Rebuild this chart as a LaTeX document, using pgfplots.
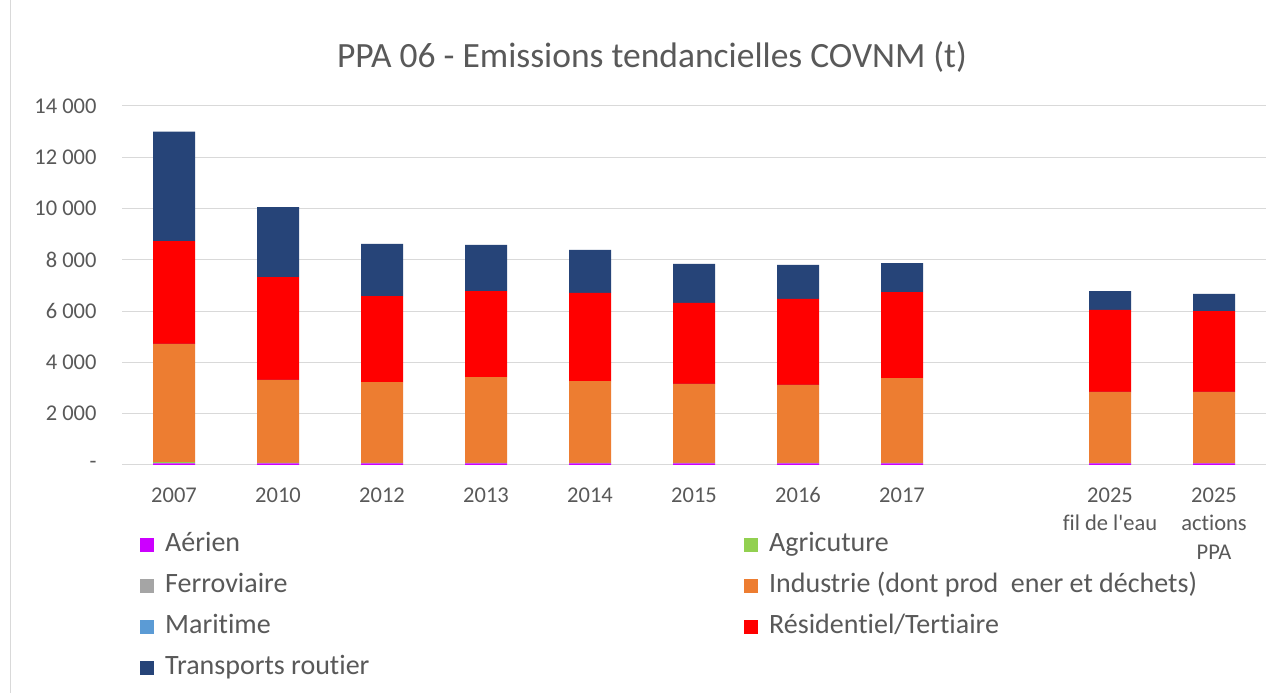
\documentclass[border=0pt]{standalone}
\usepackage{pgfplots}
\pgfplotsset{compat=1.18}
\usepackage{fontspec}
\setmainfont{Carlito}[Ligatures={NoCommon}]
\definecolor{cAer}{HTML}{CC00FF}
\definecolor{cAgr}{HTML}{92D050}
\definecolor{cFer}{HTML}{A5A5A5}
\definecolor{cInd}{HTML}{ED7D31}
\definecolor{cMar}{HTML}{5B9BD5}
\definecolor{cRes}{HTML}{FF0000}
\definecolor{cTra}{HTML}{264478}
\definecolor{txt}{HTML}{595959}
\definecolor{grd}{HTML}{D9D9D9}
\begin{document}
\begin{tikzpicture}[x=1pt,y=1pt]
\useasboundingbox (0,0) rectangle (1280,693);
\fill[white] (0,0) rectangle (1280,693);
\draw[grd, line width=1pt] (10,0) -- (10,693);
\node[text=txt, font=\fontsize{35.5}{40}\selectfont] at (652,636) {PPA 06 - Emissions tendancielles COVNM (t)};
\begin{axis}[
  at={(122pt,228pt)}, anchor=south west,
  scale only axis, width=1144pt, height=359pt,
  xmin=-0.5, xmax=10.5, ymin=0, ymax=14000,
  scaled y ticks=false,
  ybar stacked, bar width=42pt,
  axis line style={draw=none},
  ymajorgrids, grid style={grd, line width=1pt},
  major tick length=0pt,
  xtick={0,1,2,3,4,5,6,7,9,10},
  xticklabels={2007,2010,2012,2013,2014,2015,2016,2017,{2025\\fil de l\textquotesingle eau},{2025\\actions\\PPA}},
  xticklabel style={align=center, text=txt, font=\fontsize{22.5}{28.5}\selectfont, yshift=-19pt},
  ytick={0,2000,4000,6000,8000,10000,12000,14000},
  yticklabels={-,2 000,4 000,6 000,8 000,10 000,12 000,14 000},
  yticklabel style={text=txt, font=\fontsize{22.5}{26}\selectfont, xshift=-22pt},
  legend columns=2,
  legend cell align=left,
  legend style={at={(0.0157,-0.186)}, anchor=north west, draw=none, fill=none,
    font=\fontsize{28}{32}\selectfont, text=txt, inner sep=0pt,
    nodes={inner sep=0pt, text height=20pt, text depth=6pt},
    row sep=15pt},
  legend image code/.code={\fill[#1] (0pt,-7pt) rectangle (14pt,7pt);},
]
\addplot[fill=cAer, draw=none] coordinates {(0,60) (1,60) (2,60) (3,60) (4,60) (5,60) (6,60) (7,60) (9,60) (10,60)};
\addplot[fill=cAgr, draw=none] coordinates {(0,50) (1,20) (2,15) (3,15) (4,15) (5,15) (6,15) (7,15) (9,10) (10,10)};
\addplot[fill=cFer, draw=none] coordinates {(0,5) (1,5) (2,5) (3,5) (4,5) (5,5) (6,5) (7,5) (9,5) (10,5)};
\addplot[fill=cInd, draw=none] coordinates {(0,4600) (1,3225) (2,3150) (3,3345) (4,3190) (5,3075) (6,3035) (7,3305) (9,2770) (10,2770)};
\addplot[fill=cMar, draw=none] coordinates {(0,5) (1,5) (2,5) (3,5) (4,5) (5,5) (6,5) (7,5) (9,5) (10,5)};
\addplot[fill=cRes, draw=none] coordinates {(0,4015) (1,4015) (2,3355) (3,3355) (4,3435) (5,3160) (6,3355) (7,3355) (9,3195) (10,3155)};
\addplot[fill=cTra, draw=none] coordinates {(0,4265) (1,2730) (2,2030) (3,1795) (4,1675) (5,1520) (6,1325) (7,1130) (9,740) (10,665)};
\legend{\hspace*{11pt}\makebox[579pt][l]{Aérien},\hspace*{11pt}Agricuture,\hspace*{11pt}\makebox[579pt][l]{Ferroviaire},\hspace*{11pt}Industrie (dont prod\ \ ener et déchets),\hspace*{11pt}\makebox[579pt][l]{Maritime},\hspace*{11pt}Résidentiel/Tertiaire,\hspace*{11pt}\makebox[579pt][l]{Transports routier}}
\end{axis}
\end{tikzpicture}
\end{document}
